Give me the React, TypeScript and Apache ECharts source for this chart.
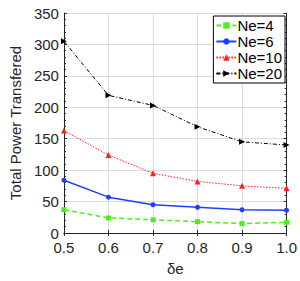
import React, { useEffect, useRef } from "react";
import * as echarts from "echarts";

const xValues = [0.5, 0.6, 0.7, 0.8, 0.9, 1.0];
const ne4 = [37, 24, 21, 18, 15, 17];
const ne6 = [84, 57, 45, 41, 37, 36];
const ne10 = [163, 124, 95, 82, 75, 71];
const ne20 = [305, 219, 203, 169, 145, 140];
const seriesNames = ["Ne=4", "Ne=6", "Ne=10", "Ne=20"];

const FONT = "Liberation Sans, Arial, sans-serif";

export default function App() {
  const ref = useRef<HTMLDivElement>(null);
  useEffect(() => {
    const chart = echarts.init(ref.current!, null, { renderer: "svg" });
    const pair = (arr: number[]) => xValues.map((x, i) => [x, arr[i]]);
    const axisLine = { show: true, lineStyle: { color: "#262626", width: 1 } };
    chart.setOption({
      animation: false,
      backgroundColor: "#ffffff",
      textStyle: { fontFamily: FONT },
      grid: { left: 50, right: 10, top: 13, bottom: 39 },
      legend: {
        orient: "vertical",
        right: 15,
        top: 16,
        itemWidth: 20,
        itemHeight: 8,
        itemGap: 1,
        padding: [2, 3, 2, 2],
        backgroundColor: "#ffffff",
        borderColor: "#000000",
        borderWidth: 1,
        borderRadius: 0,
        textStyle: { fontSize: 15, color: "#000", fontFamily: FONT, padding: [0, 0, 0, -4] },
        data: seriesNames,
      },
      xAxis: [
        {
          type: "value",
          min: 0.5,
          max: 1.0,
          interval: 0.1,
          name: "δe",
          nameLocation: "middle",
          nameGap: 28,
          nameTextStyle: { fontSize: 15, color: "#262626", fontFamily: FONT },
          axisLine,
          axisTick: { show: true, inside: true, length: 3, lineStyle: { color: "#262626" } },
          axisLabel: {
            fontSize: 15,
            color: "#262626",
            margin: 7,
            fontFamily: FONT,
            formatter: (v: number) => v.toFixed(1),
          },
          splitLine: { show: true, lineStyle: { color: "#dcdcdc", width: 1 } },
        },
        {
          type: "value",
          position: "top",
          min: 0.5,
          max: 1.0,
          interval: 0.1,
          axisLine,
          axisTick: { show: true, inside: true, length: 3, lineStyle: { color: "#262626" } },
          axisLabel: { show: false },
          splitLine: { show: false },
        },
      ],
      yAxis: [
        {
          type: "value",
          min: 0,
          max: 350,
          interval: 50,
          name: "Total Power Transfered",
          nameLocation: "middle",
          nameGap: 38,
          nameTextStyle: { fontSize: 15, color: "#262626", fontFamily: FONT },
          axisLine,
          axisTick: { show: true, inside: true, length: 3, lineStyle: { color: "#262626" } },
          minorTick: { show: true, splitNumber: 5, length: 2, lineStyle: { color: "#262626" } },
          axisLabel: { fontSize: 15, color: "#262626", margin: 5, fontFamily: FONT },
          splitLine: { show: true, lineStyle: { color: "#dcdcdc", width: 1 } },
        },
        {
          type: "value",
          position: "right",
          min: 0,
          max: 350,
          interval: 50,
          axisLine,
          axisTick: { show: true, inside: true, length: 3, lineStyle: { color: "#262626" } },
          minorTick: { show: true, splitNumber: 5, length: 2, lineStyle: { color: "#262626" } },
          axisLabel: { show: false },
          splitLine: { show: false },
        },
      ],
      series: [
        {
          name: "Ne=4",
          type: "line",
          data: pair(ne4),
          symbol: "rect",
          symbolSize: 5,
          itemStyle: { color: "#4dee1a" },
          lineStyle: { color: "#4dee1a", width: 1.5, type: [5, 3] },
        },
        {
          name: "Ne=6",
          type: "line",
          data: pair(ne6),
          symbol: "circle",
          symbolSize: 5,
          itemStyle: { color: "#1f3fff" },
          lineStyle: { color: "#1f3fff", width: 1.5, type: "solid" },
        },
        {
          name: "Ne=10",
          type: "line",
          data: pair(ne10),
          symbol: "triangle",
          symbolSize: 6,
          itemStyle: { color: "#ff1f1f" },
          lineStyle: { color: "#ff1f1f", width: 1, type: [1.5, 1.5] },
        },
        {
          name: "Ne=20",
          type: "line",
          data: pair(ne20),
          symbol: "triangle",
          symbolRotate: -90,
          symbolSize: 6,
          itemStyle: { color: "#000000" },
          lineStyle: { color: "#000000", width: 1, type: [4, 2, 1, 2] },
        },
      ],
    });
    return () => chart.dispose();
  }, []);
  return (
    <div
      ref={ref}
      style={{ position: "fixed", left: 0, top: 0, width: 300, height: 281 }}
    />
  );
}
